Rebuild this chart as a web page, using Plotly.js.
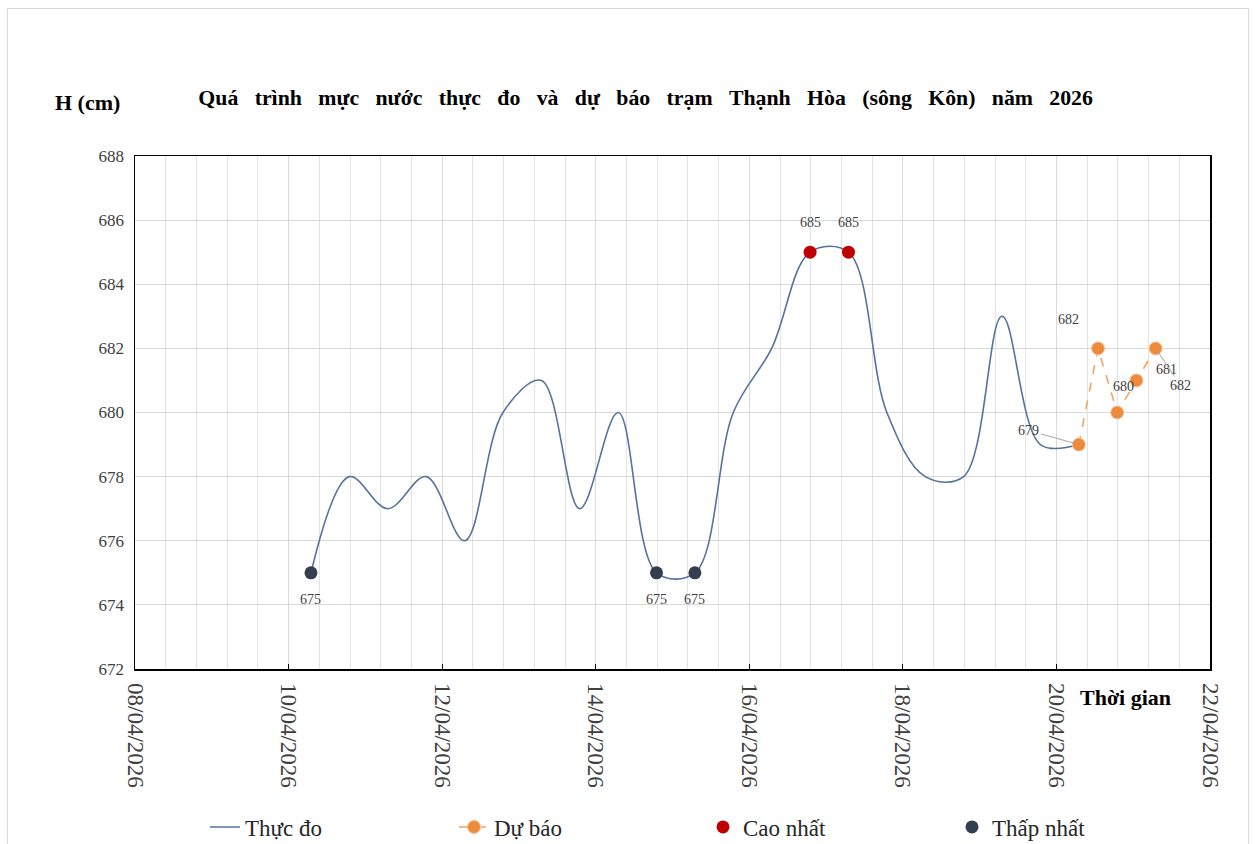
<!DOCTYPE html>
<html>
<head>
<meta charset="utf-8">
<script src="https://cdn.plot.ly/plotly-3.0.1.min.js"></script>
<style>
  html, body { margin: 0; padding: 0; background: #ffffff; }
  #chart { position: absolute; left: 0; top: 0; width: 1255px; height: 844px; }
  #frame { position: absolute; left: 7px; top: 8px; width: 1240px; height: 900px;
           border: 1px solid #d9d9d9; pointer-events: none; z-index: 5; }
</style>
</head>
<body>
<div id="chart"></div>
<div id="frame"></div>
<script>
// ---- Data ----
const obsTimes = [
  '2026-04-10 07:00', '2026-04-10 19:00', '2026-04-11 07:00', '2026-04-11 19:00',
  '2026-04-12 07:00', '2026-04-12 19:00', '2026-04-13 07:00', '2026-04-13 19:00',
  '2026-04-14 07:00', '2026-04-14 19:00', '2026-04-15 07:00', '2026-04-15 19:00',
  '2026-04-16 07:00', '2026-04-16 19:00', '2026-04-17 07:00', '2026-04-17 19:00',
  '2026-04-18 07:00', '2026-04-18 19:00', '2026-04-19 07:00', '2026-04-19 19:00',
  '2026-04-20 07:00'
];
const obsValues = [675, 678, 677, 678, 676, 680, 681, 677, 680, 675, 675, 680,
                   682, 685, 685, 680, 678, 678, 683, 679, 679];

const fcTimes = ['2026-04-20 07:00', '2026-04-20 13:00', '2026-04-20 19:00',
                 '2026-04-21 01:00', '2026-04-21 07:00'];
const fcValues = [679, 682, 680, 681, 682];

const highTimes = ['2026-04-16 19:00', '2026-04-17 07:00'];
const highValues = [685, 685];

const lowTimes = ['2026-04-10 07:00', '2026-04-14 19:00', '2026-04-15 07:00'];
const lowValues = [675, 675, 675];

const seriesNames = ['Thực đo', 'Dự báo', 'Cao nhất', 'Thấp nhất'];
const titleText = 'Quá trình mực nước thực đo và dự báo trạm Thạnh Hòa (sông Kôn) năm 2026';
const yTitleText = 'H (cm)';
const xTitleText = 'Thời gian';

// ---- Styles ----
const SERIF = '"Liberation Serif", "Times New Roman", serif';
const blue = '#55729f';
const orangeLine = '#f2a462';
const orangeMarker = '#ee8a3c';
const red = '#c00000';
const dark = '#333f50';
const labelFont = {family: SERIF, size: 14, color: '#404040'};

// label offsets for forecast points (pixel shifts, style only)
const fcLabelStyle = [
  {showarrow: true, ax: -50, ay: -14},
  {xshift: -30, yshift: 29},
  {xshift: 6, yshift: 26},
  {xshift: 30, yshift: 11},
  {showarrow: true, ax: 25, ay: 37}
];

const traces = [
  {
    x: obsTimes, y: obsValues, name: seriesNames[0], type: 'scatter', mode: 'lines',
    line: {color: blue, width: 1.6, shape: 'spline', smoothing: 1}
  },
  {
    x: fcTimes, y: fcValues, name: seriesNames[1], type: 'scatter', mode: 'lines+markers',
    line: {color: orangeLine, width: 1.6, dash: 'dash'},
    marker: {color: orangeMarker, size: 13, line: {color: '#f7c49a', width: 1}}
  },
  {
    x: highTimes, y: highValues, name: seriesNames[2], type: 'scatter', mode: 'markers',
    marker: {color: red, size: 13}
  },
  {
    x: lowTimes, y: lowValues, name: seriesNames[3], type: 'scatter', mode: 'markers',
    marker: {color: dark, size: 13}
  }
];

const annotations = [];
highTimes.forEach((t, i) => annotations.push({
  x: t, y: highValues[i], text: String(highValues[i]), showarrow: false,
  yshift: 30, font: labelFont
}));
lowTimes.forEach((t, i) => annotations.push({
  x: t, y: lowValues[i], text: String(lowValues[i]), showarrow: false,
  yshift: -27, font: labelFont
}));
fcTimes.forEach((t, i) => {
  const s = fcLabelStyle[i];
  const a = {x: t, y: fcValues[i], text: String(fcValues[i]), font: labelFont,
             showarrow: !!s.showarrow};
  if (s.showarrow) {
    a.ax = s.ax; a.ay = s.ay; a.arrowhead = 0; a.arrowwidth = 1;
    a.arrowcolor = '#a6a6a6'; a.standoff = 4;
  } else {
    a.xshift = s.xshift; a.yshift = s.yshift;
  }
  annotations.push(a);
});
annotations.push({
  xref: 'paper', yref: 'paper', x: -0.044, y: 1.105, xanchor: 'center', yanchor: 'middle',
  text: '<b>' + yTitleText + '</b>',
  showarrow: false, font: {family: SERIF, size: 22, color: '#000'}
});
annotations.push({
  xref: 'paper', yref: 'paper', x: 0.921, y: -0.055, xanchor: 'center', yanchor: 'middle',
  text: '<b>' + xTitleText + '</b>',
  showarrow: false, font: {family: SERIF, size: 22, color: '#000'}
});

const spacedTitle = titleText.split(' ').join(' \u00a0\u00a0');

const layout = {
  width: 1255, height: 844,
  margin: {l: 135, r: 45, t: 156, b: 175},
  paper_bgcolor: '#ffffff', plot_bgcolor: '#ffffff',
  font: {family: SERIF, color: '#404040'},
  title: {
    text: '<b>' + spacedTitle + '</b>',
    font: {family: SERIF, size: 21.8, color: '#000'},
    xref: 'paper', x: 0.475, xanchor: 'center',
    yref: 'container', y: 1 - 97 / 844, yanchor: 'middle'
  },
  xaxis: {
    type: 'date',
    range: ['2026-04-08', '2026-04-22'],
    tick0: '2026-04-08', dtick: 2 * 86400000,
    tickformat: '%d/%m/%Y', tickangle: 90,
    tickfont: {family: SERIF, size: 23, color: '#404040'},
    ticklabelstandoff: 8,
    showgrid: true, gridcolor: '#d9d9d9', gridwidth: 1,
    minor: {tick0: '2026-04-08', dtick: 0.4 * 86400000, showgrid: true,
            gridcolor: '#e3e3e3', gridwidth: 1},
    showline: true, linecolor: '#000', linewidth: 1.5, mirror: true,
    ticks: 'inside', ticklen: 5, tickcolor: '#000', tickwidth: 1,
    zeroline: false, fixedrange: true
  },
  yaxis: {
    range: [672, 688], dtick: 2, tick0: 672,
    tickfont: {family: SERIF, size: 17, color: '#404040'},
    showgrid: true, gridcolor: '#d9d9d9', gridwidth: 1,
    showline: true, linecolor: '#000', linewidth: 1.5, mirror: true,
    ticks: '', zeroline: false, fixedrange: true, ticklabelstandoff: 6
  },
  showlegend: true,
  legend: {
    orientation: 'h', xref: 'container', yref: 'container',
    x: 205 / 1255, xanchor: 'left', y: 1 - 827 / 844, yanchor: 'middle',
    font: {family: SERIF, size: 23, color: '#262626'},
    entrywidth: 204, entrywidthmode: 'pixels', bgcolor: 'rgba(0,0,0,0)'
  },
  annotations: annotations
};

Plotly.newPlot('chart', traces, layout, {displayModeBar: false, staticPlot: true});
</script>
</body>
</html>
